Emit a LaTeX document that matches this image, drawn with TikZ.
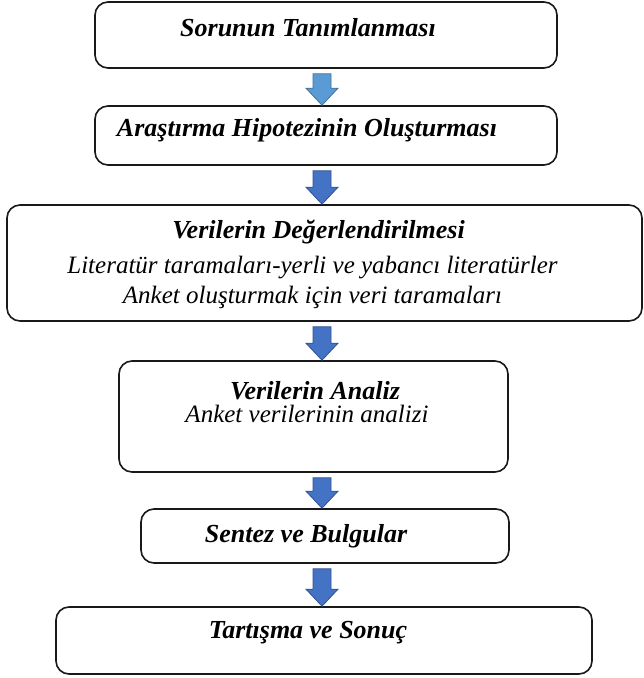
\documentclass[tikz,border=0pt]{standalone}
\usepackage{fontspec}
\setmainfont{Liberation Serif}
\usepackage{xcolor}
\usetikzlibrary{positioning, calc}
\definecolor{arrlight}{RGB}{91,155,213}
\definecolor{arrlightdraw}{RGB}{65,113,156}
\definecolor{arrdark}{RGB}{68,114,196}
\definecolor{arrdarkdraw}{RGB}{47,82,143}

\begin{document}
\begin{tikzpicture}[
    x=1pt, y=-1pt,
    stepbox/.style={rectangle, draw=black!90, line width=1.6pt, rounded corners=13pt, inner sep=0pt},
    title/.style={font=\fontsize{26}{30}\selectfont\bfseries\itshape, align=center},
    sub/.style={font=\fontsize{25}{30}\selectfont\itshape, align=center},
    lightarrow/.style={fill=arrlight, draw=arrlightdraw, line width=0.8pt},
    darkarrow/.style={fill=arrdark, draw=arrdarkdraw, line width=0.8pt},
]
    \useasboundingbox (0,0) rectangle (644,678);
    \coordinate (axis) at (322,0);

    % Boxes
    \node[stepbox, minimum width=462, minimum height=66] (sorun) at (326,35) {};
    \node[stepbox, minimum width=462, minimum height=59] (hipotez) at (326,135.5) {};
    \node[stepbox, minimum width=635, minimum height=116] (deger) at (324.5,263) {};
    \node[stepbox, minimum width=389, minimum height=111] (analiz) at (313.5,416.5) {};
    \node[stepbox, minimum width=368, minimum height=54] (sentez) at (325,536) {};
    \node[stepbox, minimum width=536, minimum height=67] (sonuc) at (324,640.5) {};

    % Texts
    \node[title] (sorunT) at ([xshift=-18, yshift=-26]sorun.north) {Sorunun Tanımlanması};
    \node[title] (hipotezT) at ([xshift=-19, yshift=-25]hipotez.north) {Araştırma Hipotezinin Oluşturması};
    \node[title] (degerT) at ([xshift=-6, yshift=-28]deger.north) {Verilerin Değerlendirilmesi};
    \node[sub] (degerS) at ([xshift=-12, yshift=-78]deger.north) {Literatür taramaları-yerli ve yabancı literatürler\\Anket oluşturmak için veri taramaları};
    \node[title] (analizT) at ([xshift=1.5, yshift=-30]analiz.north) {Verilerin Analiz};
    \node[sub] (analizS) at ([xshift=-6.5, yshift=-54]analiz.north) {Anket verilerinin analizi};
    \node[title] (sentezT) at ([xshift=-19, yshift=-28]sentez.north) {Sentez ve Bulgular};
    \node[title] (sonucT) at ([xshift=-16, yshift=-26]sonuc.north) {Tartışma ve Sonuç};

    % Block arrows
    \foreach \a/\b/\c in {sorun/hipotez/lightarrow, hipotez/deger/darkarrow, deger/analiz/darkarrow, analiz/sentez/darkarrow, sentez/sonuc/darkarrow}
        \draw[\c] ($(\a.south -| axis)+(-9,5)$) -- ($(\a.south -| axis)+(9,5)$)
            -- ($(\b.north -| axis)+(9,-17)$) -- ($(\b.north -| axis)+(16,-17)$)
            -- (\b.north -| axis) -- ($(\b.north -| axis)+(-16,-17)$)
            -- ($(\b.north -| axis)+(-9,-17)$) -- cycle;
\end{tikzpicture}
\end{document}
